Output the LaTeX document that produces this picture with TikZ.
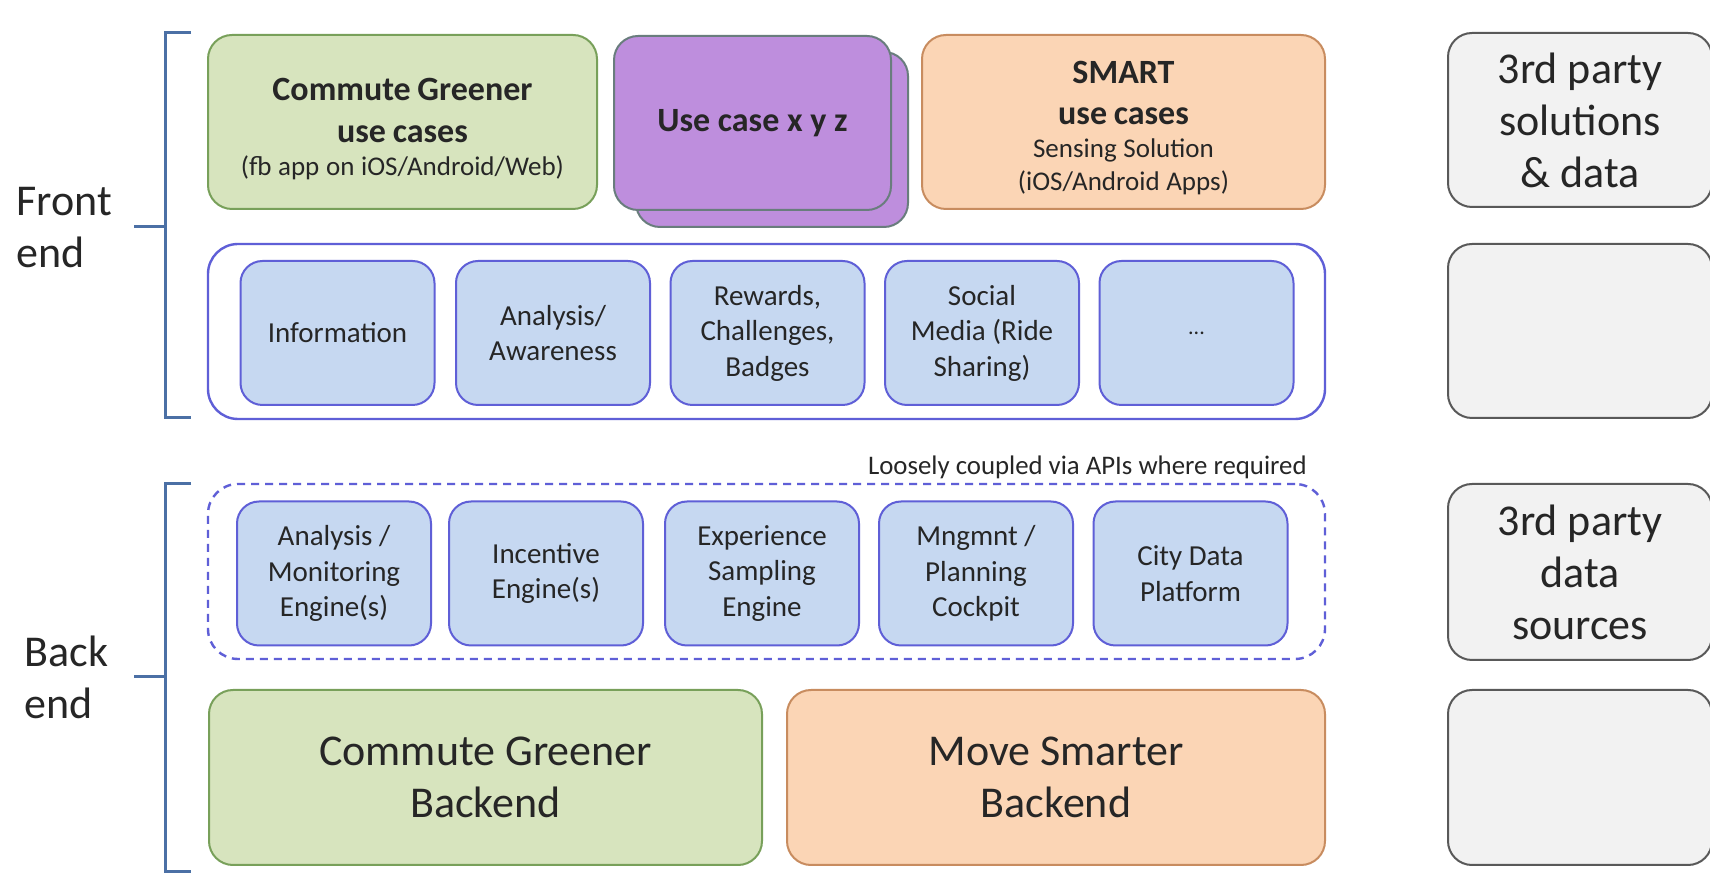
\documentclass[tikz,border=0pt]{standalone}
\usepackage{fontspec}
\setmainfont{Carlito}
\newcommand\tfnt{\fontsize{17}{20.7}\selectfont\bfseries}
\newcommand\sfnt{\fontsize{13.5}{16.5}\selectfont}
\begin{document}
\begin{tikzpicture}[x=0.5pt,y=-0.5pt,
  base/.style={rounded corners=12pt, line width=1pt, align=center, text=black!85, inner sep=0pt},
  greenbox/.style={base, draw=cgborder, fill=cgfill},
  orangebox/.style={base, draw=orborder, fill=orfill},
  purplebox/.style={base, draw=puborder, fill=pufill},
  graybox/.style={base, draw=black!65, fill=black!5, minimum width=132pt, minimum height=87pt},
  bluebox/.style={base, rounded corners=11pt, draw=blborder, fill=blfill, minimum width=97pt, minimum height=72pt, font=\fontsize{14.5}{17.75}\selectfont},
  container/.style={rounded corners=15pt, line width=1.2pt, draw=blborder, minimum width=558.5pt, minimum height=87.5pt, inner sep=0pt},
  bracket/.style={draw=bracecol, line width=1.5pt},
  bigfont/.style={font=\fontsize{22}{26}\selectfont},
]
\definecolor{cgfill}{RGB}{215,228,190}
\definecolor{cgborder}{RGB}{120,160,90}
\definecolor{orfill}{RGB}{251,213,181}
\definecolor{orborder}{RGB}{200,140,95}
\definecolor{pufill}{RGB}{190,142,221}
\definecolor{puborder}{RGB}{105,125,125}
\definecolor{blfill}{RGB}{198,216,241}
\definecolor{blborder}{RGB}{95,95,215}
\definecolor{bracecol}{RGB}{75,112,165}

\useasboundingbox[fill=white] (0,0) rectangle (1710,892);

% brackets
\draw[bracket] (191,33) -- (165,33) -- (165,418) -- (191,418);
\draw[bracket] (134,227) -- (165,227);
\draw[bracket] (191,484) -- (165,484) -- (165,872) -- (191,872);
\draw[bracket] (134,677) -- (165,677);

\node[anchor=west, align=left, bigfont, text=black!85, inner sep=0pt] (fe) at (16,228) {Front\\end};
\node[anchor=west, align=left, bigfont, text=black!85, inner sep=0pt] (be) at (24,677) {Back\\end};

% top row
\node[greenbox, minimum width=194.5pt, minimum height=87pt, text width=190pt] (cg) at (402.5,122)
  {{\tfnt \rule{0pt}{18.2pt}Commute Greener\\use cases\par}{\sfnt (fb app on iOS/Android/Web)\par}};
\node[purplebox, minimum width=136pt, minimum height=87.5pt] (uxyzb) at (772,139.5) {};
\node[purplebox, minimum width=138.5pt, minimum height=87pt] (uxyz) at (752.5,123) {\tfnt Use case x y z};
\node[orangebox, minimum width=201.5pt, minimum height=87pt, text width=195pt] (smart) at (1123.5,122)
  {{\tfnt \rule{0pt}{17.2pt}SMART\\use cases\par}{\sfnt Sensing Solution\\(iOS/Android Apps)\par}};
\node[graybox, bigfont] (tp1) at (1580,120) {3rd party\\solutions\\\& data};

% front-end container
\node[container] (fec) at (766.5,331.5) {};
\node[bluebox] (f1) at (337.5,333) {Information};
\node[bluebox] (f2) at (553,333) {Analysis/\\Awareness};
\node[bluebox] (f3) at (767.5,333) {Rewards,\\Challenges,\\Badges};
\node[bluebox] (f4) at (982,333) {Social\\Media (Ride\\Sharing)};
\node[bluebox] (f5) at (1196.5,333) {\fontsize{11}{13}\selectfont ...};
\node[graybox] (tp2) at (1580,331) {};

% back-end
\node[anchor=east, inner sep=0pt, text=black!85, font=\fontsize{13.4}{15}\selectfont] (lc) at (1307,467) {Loosely coupled via APIs where required};
\node[container, dashed, dash pattern=on 4pt off 3pt] (bec) at (766.5,571.5) {};
\node[bluebox] (b1) at (334,573.5) {Analysis /\\Monitoring\\Engine(s)};
\node[bluebox] (b2) at (546,573.5) {Incentive\\Engine(s)};
\node[bluebox] (b3) at (762,573.5) {Experience\\Sampling\\Engine};
\node[bluebox] (b4) at (976,573.5) {Mngmnt /\\Planning\\Cockpit};
\node[bluebox] (b5) at (1190.5,573.5) {City Data\\Platform};
\node[graybox, bigfont, minimum height=88pt] (tp3) at (1580,572) {3rd party\\data\\sources};

\node[greenbox, minimum width=276.5pt, minimum height=87.5pt, bigfont] (cgb) at (485.5,777.5) {Commute Greener\\Backend};
\node[orangebox, minimum width=269pt, minimum height=87.5pt, bigfont] (msb) at (1056,777.5) {Move Smarter\\Backend};
\node[graybox, minimum height=87.5pt] (tp4) at (1580,777.5) {};
\end{tikzpicture}
\end{document}
